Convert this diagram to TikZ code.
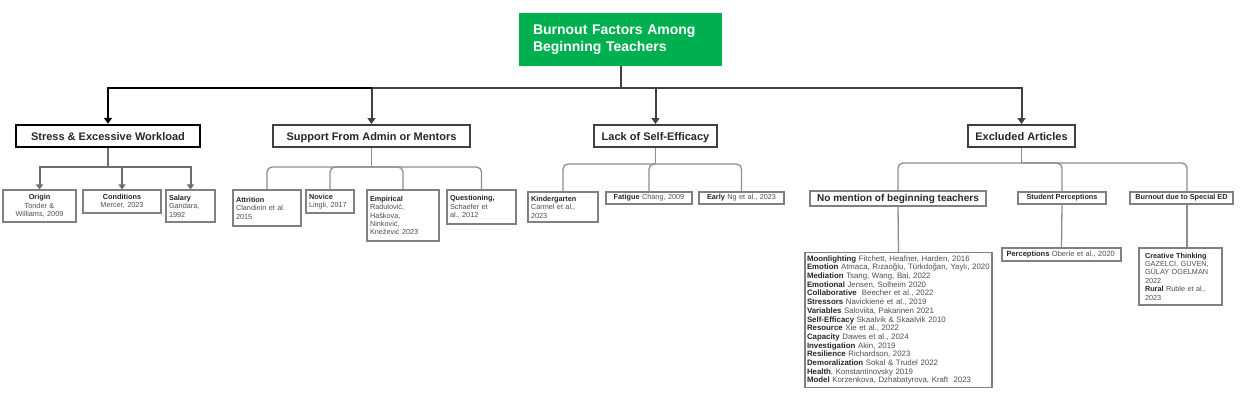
\documentclass[tikz,border=0pt]{standalone}
\usepackage{fontspec}
\setmainfont{Liberation Sans}
\usetikzlibrary{arrows.meta}
\definecolor{rootgreen}{HTML}{00B050}
\definecolor{busgray}{HTML}{404040}
\definecolor{boxgray}{HTML}{808080}
\definecolor{txtdark}{HTML}{262626}
\definecolor{txtcit}{HTML}{4D4D4D}
\newcommand{\fsroot}{\fontsize{14}{17}\selectfont\bfseries}
\newcommand{\fsone}{\fontsize{11}{13}\selectfont\bfseries}
\newcommand{\fsmid}{\fontsize{10}{12}\selectfont\bfseries}
\newcommand{\fssmall}{\fontsize{7.3}{8.4}\selectfont}
\newcommand{\fslist}{\fontsize{7.85}{8.7}\selectfont}
\newcommand{\lbl}[1]{\textbf{\color{txtdark}#1}}
\begin{document}
\begin{tikzpicture}[x=1pt,y=-1pt,
  rootbox/.style={fill=rootgreen, text=white, font=\fsroot, minimum width=203pt, minimum height=53pt, text width=175pt, align=left, inner sep=0pt},
  lone/.style={draw=busgray, line width=2pt, font=\fsone, text=txtdark, minimum height=22pt, inner sep=0pt, text height=9pt, text depth=0pt},
  ltwo/.style={draw=boxgray, line width=1.1pt, font=\fssmall, text=txtcit, inner xsep=3pt, inner ysep=0pt},
  bus/.style={draw=busgray, line width=2pt},
  tip/.style={-{Triangle[length=6pt,width=8pt]}},
  stip/.style={-{Triangle[length=5pt,width=7pt]}},
  sconn/.style={draw=boxgray!85!black, line width=2pt},
  tconn/.style={draw=boxgray!90, line width=1.3pt, rounded corners=5pt}
]
\useasboundingbox (0,0) rectangle (1240,400);

% root
\node[rootbox] (root) at (620.5,39.5) {Burnout Factors Among\\Beginning Teachers};

% level 1
\node[lone, draw=black, line width=2.5pt, minimum width=184pt] (stress) at (108,136) {Stress \& Excessive Workload};
\node[lone, minimum width=197pt] (support) at (371.5,136) {Support From Admin or Mentors};
\node[lone, minimum width=123pt] (lack) at (655.5,136) {Lack of Self-Efficacy};
\node[lone, minimum width=107pt] (excl) at (1021.5,136) {Excluded Articles};

\coordinate (j) at (620.5,88);
\coordinate (js) at (371.5,88);
\draw[bus] (root.south) -- (j);
\draw[bus,tip] (j) -| (support.north);
\draw[bus,tip] (j) -| (lack.north);
\draw[bus,tip] (j) -| (excl.north);
\draw[bus,draw=black,tip] (js) -| (stress.north);

% stress children
\node[ltwo, minimum width=73pt, minimum height=32pt, text width=67pt, align=center] (origin) at (39.5,206) {\lbl{Origin}\\Tonder \&\\Williams, 2009};
\node[ltwo, minimum width=78pt, minimum height=23pt, text width=72pt, align=center] (cond) at (122,201.5) {\lbl{Conditions}\\Mercer, 2023};
\node[ltwo, minimum width=49pt, minimum height=32pt, text width=43pt, align=left] (salary) at (190.5,206) {\lbl{Salary}\\Gandara,\\1992};
\coordinate (sj1) at (108,167);
\draw[sconn] (stress.south) -- (sj1);
\draw[sconn,stip] (sj1) -| (origin.north);
\draw[sconn,stip] (sj1) -| (cond.north);
\draw[sconn,stip] (sj1) -| (salary.north);

% support children
\node[ltwo, minimum width=68pt, minimum height=36pt, text width=62pt, align=left] (attr) at (267,208) {\lbl{Attrition}\\Clandinin et al.\\2015};
\node[ltwo, minimum width=48pt, minimum height=23pt, text width=42pt, align=left] (novice) at (330,201.5) {\lbl{Novice}\\Lingli, 2017};
\node[ltwo, minimum width=72pt, minimum height=51pt, text width=66pt, align=left] (emp) at (403,215.5) {\lbl{Empirical}\\Radulović,\\Haškova,\\Ninković,\\Knežević 2023};
\node[ltwo, minimum width=69pt, minimum height=34pt, text width=63pt, align=left] (quest) at (481.5,207) {\lbl{Questioning,}\\Schaefer et\\al., 2012};
\coordinate (sj2) at (371.5,167);
\draw[tconn] (support.south) -- (sj2);
\draw[tconn] (attr.north) |- (sj2);
\draw[tconn] (novice.north) |- (sj2);
\draw[tconn] (emp.north) |- (sj2);
\draw[tconn] (quest.north) |- (sj2);

% lack children
\node[ltwo, minimum width=70pt, minimum height=30pt, text width=64pt, align=left] (kind) at (563,207) {\lbl{Kindergarten}\\Carmel et al.,\\2023};
\node[ltwo, minimum width=86pt, minimum height=12pt, text width=80pt, align=center] (fat) at (649,198) {\lbl{Fatigue} Chang, 2009};
\node[ltwo, minimum width=85pt, minimum height=12pt, text width=79pt, align=center] (early) at (741.5,198) {\lbl{Early} Ng et al., 2023};
\coordinate (sj3) at (655.5,164);
\draw[tconn] (lack.south) -- (sj3);
\draw[tconn] (kind.north) |- (sj3);
\draw[tconn] (fat.north) |- (sj3);
\draw[tconn] (early.north) |- (sj3);

% excluded children
\node[ltwo, minimum width=176pt, minimum height=15pt, font=\fsmid, text=txtdark, align=center] (nomen) at (898,198.5) {No mention of beginning teachers};
\node[ltwo, minimum width=88pt, minimum height=12pt, font=\fssmall\bfseries, text=txtdark, align=center] (studp) at (1062,198) {Student Perceptions};
\node[ltwo, minimum width=103pt, minimum height=12pt, font=\fssmall\bfseries, text=txtdark, align=center] (sped) at (1181.5,198) {Burnout due to Special ED};
\coordinate (sj4) at (1021.5,163);
\draw[tconn] (excl.south) -- (sj4);
\draw[tconn] (nomen.north) |- (sj4);
\draw[tconn] (studp.north) |- (sj4);
\draw[tconn] ([xshift=5.5pt]sped.north) |- (sj4);

% lower boxes
\node[ltwo, minimum width=187pt, minimum height=135pt, text width=183pt, inner xsep=2pt, align=left, font=\fslist] (big) at (898.5,320) {%
\lbl{Moonlighting} Fitchett, Heafner, Harden, 2016\\
\lbl{Emotion} Atmaca, Rızaoğlu, Türkdoğan, Yaylı, 2020\\
\lbl{Mediation} Tsang, Wang, Bai, 2022\\
\lbl{Emotional} Jensen, Solheim 2020\\
\lbl{Collaborative}\ \ Beecher et al., 2022\\
\lbl{Stressors} Navickienė et al., 2019\\
\lbl{Variables} Saloviita, Pakarinen 2021\\
\lbl{Self-Efficacy} Skaalvik \& Skaalvik 2010\\
\lbl{Resource} Xie et al., 2022\\
\lbl{Capacity} Dawes et al., 2024\\
\lbl{Investigation} Akin, 2019\\
\lbl{Resilience} Richardson, 2023\\
\lbl{Demoralization} Sokal \& Trudel 2022\\
\lbl{Health}, Konstantinovsky 2019\\
\lbl{Model} Korzenkova, Dzhabatyrova, Kraft\ \ 2023};
\node[ltwo, minimum width=119pt, minimum height=13pt, text width=115pt, inner xsep=2pt, align=left, font=\fontsize{7.5}{9}\selectfont] (perc) at (1061.5,254.5) {\ \lbl{Perceptions} Oberle et al., 2020};
\node[ltwo, minimum width=83pt, minimum height=57pt, text width=71pt, inner xsep=6pt, align=left] (creat) at (1180.5,276.5) {\lbl{Creative Thinking}\\GAZELCİ, GUVEN,\\GÜLAY OGELMAN\\2022\\\lbl{Rural} Ruble et al.,\\2023};
\draw[tconn] (nomen.south) -- (big.north);
\draw[tconn] (studp.south) -- (perc.north);
\draw[tconn] ([xshift=5.5pt]sped.south) -- ([xshift=5.5pt]sped.south |- creat.north);
\end{tikzpicture}
\end{document}
